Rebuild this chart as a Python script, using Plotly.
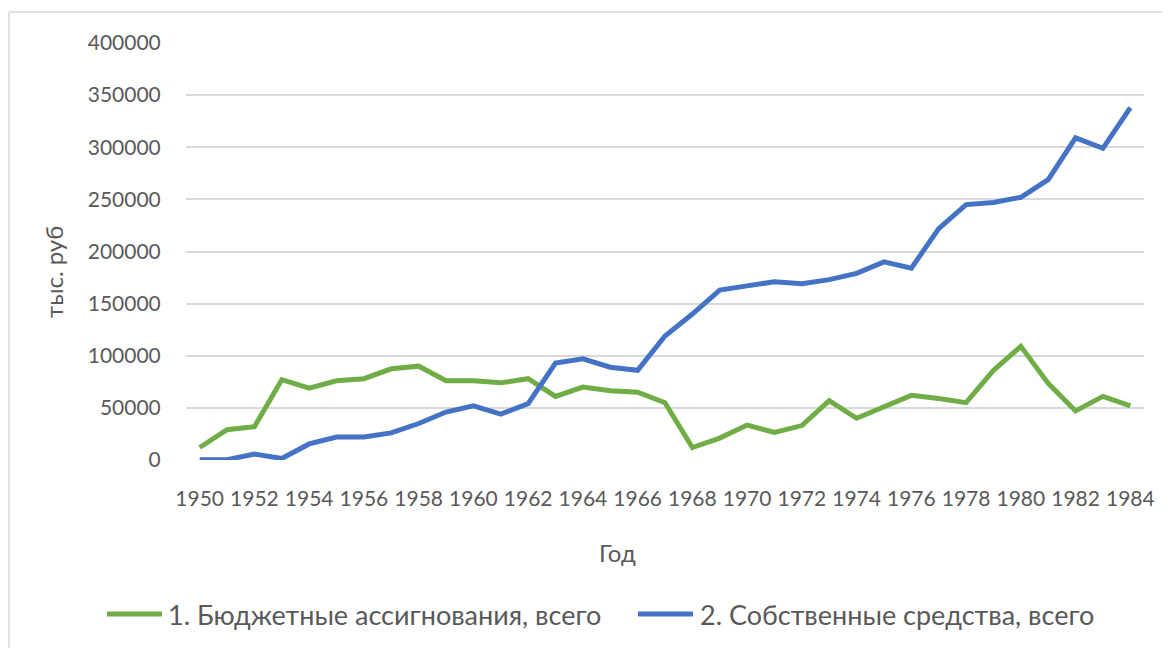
import plotly.graph_objects as go

years = list(range(1950, 1985))
budget = [12000, 29000, 32000, 77000, 69000, 76000, 78000, 87500, 90000, 76000,
          76000, 74000, 78000, 61000, 70000, 66500, 65000, 55000, 12000, 21000,
          33500, 26500, 33000, 57000, 40000, 51000, 62000, 59000, 55000, 86000,
          109000, 73500, 47000, 61000, 52000]
own = [300, 300, 5800, 1500, 15400, 22000, 22000, 26000, 35000, 46000,
       52000, 44000, 54000, 93000, 97000, 89000, 86000, 119000, 140000, 163000,
       167000, 171000, 169000, 173000, 179000, 190000, 184000, 222000, 245000, 247000,
       252000, 269000, 309000, 299000, 338000]
series_names = ["1. Бюджетные ассигнования, всего", "2. Собственные средства, всего"]
colors = ["#70AD47", "#4472C4"]
x_ticks = list(range(1950, 1985, 2))
y_ticks = list(range(0, 400001, 50000))

FONT = "Lato"
TXT = "#595959"
OFF = 8  # page body margin
W, H = 1170 - OFF, 648 - OFF
L, T = 186 - OFF, 43 - OFF
R = W - (1144 - OFF)
B = H - (460 - OFF)
pw, ph = W - L - R, H - T - B

def px(x):  # page pixel x -> paper
    return (x - OFF - L) / pw

def py(y):  # page pixel y -> paper
    return (H - B - (y - OFF)) / ph

fig = go.Figure()
for name, vals, c in zip(series_names, [budget, own], colors):
    fig.add_trace(go.Scatter(x=years, y=vals, mode="lines", name=name,
                             line=dict(color=c, width=5), showlegend=False))

shapes = []
annotations = []
# chart border (left & top)
shapes.append(dict(type="line", xref="paper", yref="paper", x0=px(9), x1=px(9),
                   y0=py(12), y1=py(700), line=dict(color="#D9D9D9", width=1.5)))
shapes.append(dict(type="line", xref="paper", yref="paper", x0=px(9), x1=px(1200),
                   y0=py(12), y1=py(12), line=dict(color="#D9D9D9", width=1.5)))
# legend
leg = [(107, 162, 166), (638, 693, 698)]
for (x0, x1, xt), name, c in zip(leg, series_names, colors):
    shapes.append(dict(type="line", xref="paper", yref="paper", x0=px(x0), x1=px(x1),
                       y0=py(614), y1=py(614), line=dict(color=c, width=5)))
    annotations.append(dict(xref="paper", yref="paper", x=px(xt), y=py(614),
                            text=name, showarrow=False, xanchor="left", yanchor="middle",
                            font=dict(family=FONT, size=27, color=TXT)))
annotations.append(dict(xref="paper", yref="paper", x=px(617), y=py(552), text="Год",
                        showarrow=False, xanchor="center", yanchor="middle",
                        font=dict(family=FONT, size=24, color=TXT)))
annotations.append(dict(xref="paper", yref="paper", x=px(53), y=py(272), text="тыс. руб",
                        showarrow=False, xanchor="center", yanchor="middle", textangle=-90,
                        font=dict(family=FONT, size=24, color=TXT)))

fig.update_layout(
    width=W, height=H,
    margin=dict(l=L, r=R, t=T, b=B),
    paper_bgcolor="white", plot_bgcolor="white",
    font=dict(family=FONT, size=21, color=TXT),
    shapes=shapes, annotations=annotations,
    xaxis=dict(range=[1949.5, 1984.5], tickvals=x_ticks, ticktext=[str(v) for v in x_ticks],
               showgrid=False, zeroline=False, showline=False,
               ticks="outside", ticklen=20, tickcolor="rgba(0,0,0,0)",
               tickfont=dict(family=FONT, size=21, color=TXT)),
    yaxis=dict(range=[0, 400000], tickvals=y_ticks, ticktext=[str(v) for v in y_ticks],
               showgrid=True, gridcolor="#D9D9D9", gridwidth=1.5, zeroline=False,
               showline=False, ticks="outside", ticklen=20, tickcolor="rgba(0,0,0,0)",
               tickfont=dict(family=FONT, size=21, color=TXT)),
)

fig.write_html("out.html")
